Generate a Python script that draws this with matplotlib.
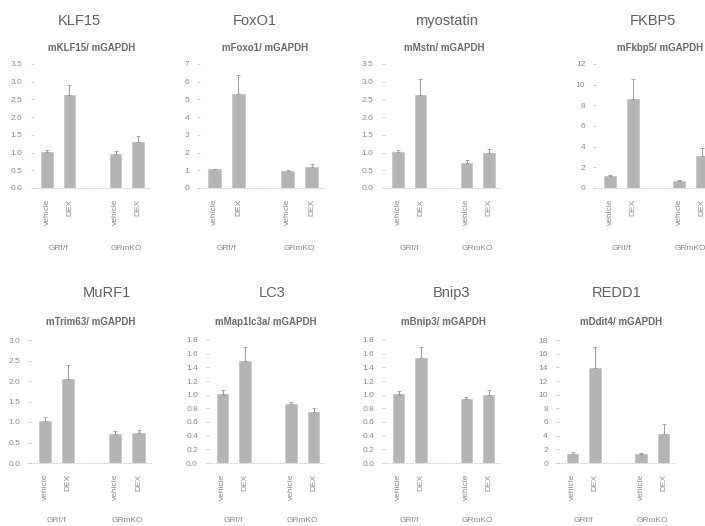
import numpy as np
import matplotlib
matplotlib.use('Agg')
import matplotlib.pyplot as plt

plt.rcParams['font.family'] = ['Liberation Sans', 'DejaVu Sans']

# ---- data ----
genes = ['KLF15', 'FoxO1', 'myostatin', 'FKBP5', 'MuRF1', 'LC3', 'Bnip3', 'REDD1']
ratios = ['mKLF15/ mGAPDH', 'mFoxo1/ mGAPDH', 'mMstn/ mGAPDH', 'mFkbp5/ mGAPDH',
          'mTrim63/ mGAPDH', 'mMap1lc3a/ mGAPDH', 'mBnip3/ mGAPDH', 'mDdit4/ mGAPDH']
conditions = ['vehicle', 'DEX', 'vehicle', 'DEX']
groups = ['GRf/f', 'GRmKO']

klf15 = [1.02, 2.63, 0.96, 1.30]
klf15_err = [0.05, 0.27, 0.09, 0.17]
foxo1 = [1.05, 5.33, 0.95, 1.20]
foxo1_err = [0.05, 1.05, 0.07, 0.15]
myostatin = [1.02, 2.62, 0.71, 0.99]
myostatin_err = [0.05, 0.45, 0.07, 0.10]
fkbp5 = [1.13, 8.6, 0.70, 3.1]
fkbp5_err = [0.17, 1.9, 0.10, 0.8]
murf1 = [1.03, 2.05, 0.70, 0.74]
murf1_err = [0.08, 0.33, 0.08, 0.07]
lc3 = [1.01, 1.50, 0.86, 0.75]
lc3_err = [0.06, 0.20, 0.04, 0.06]
bnip3 = [1.01, 1.53, 0.93, 1.00]
bnip3_err = [0.05, 0.17, 0.03, 0.07]
redd1 = [1.3, 13.9, 1.3, 4.3]
redd1_err = [0.25, 3.1, 0.20, 1.4]

values = [klf15, foxo1, myostatin, fkbp5, murf1, lc3, bnip3, redd1]
errors = [klf15_err, foxo1_err, myostatin_err, fkbp5_err,
          murf1_err, lc3_err, bnip3_err, redd1_err]
ytop = [3.5, 7, 3.5, 12, 3.0, 1.8, 1.8, 18]
ystep = [0.5, 1, 0.5, 2, 0.5, 0.2, 0.2, 2]
yfmt = ['{:.1f}', '{:d}', '{:.1f}', '{:d}', '{:.1f}', '{:.1f}', '{:.1f}', '{:d}']

xpos = np.array([0, 1, 3.05, 4.05])

# ---- layout in pixels (first bar centre, last bar centre, title x, subtitle x) ----
W, H = 705, 526
layout = [
    (47, 138, 79, 92), (214.5, 311.5, 255, 265), (398, 489, 447, 444), (610, 702, 653, 660),
    (45, 138.5, 107, 91), (222.5, 313.5, 272, 266), (398.5, 488.5, 452, 443), (572.5, 663.5, 617, 621),
]
rows = [dict(top=64, base=188, title=21, sub=48, grp=248),
        dict(top=340, base=463, title=293, sub=322, grp=520)]

bar_c = '#b4b4b4'
txt_c = '#8a8a8a'
title_c = '#606060'

fig = plt.figure(figsize=(W / 100, H / 100), dpi=100)
fig.patch.set_facecolor('white')

for i, gene in enumerate(genes):
    c0, c3, tx, sx = layout[i]
    r = rows[i // 4]
    u = (c3 - c0) / xpos[-1]
    x0, x1 = -0.6, 4.6
    left = c0 + x0 * u
    width = (x1 - x0) * u
    ax = fig.add_axes([left / W, 1 - r['base'] / H, width / W, (r['base'] - r['top']) / H])
    ax.patch.set_alpha(0)

    v = np.array(values[i])
    e = np.array(errors[i])
    ax.bar(xpos, v, width=0.52, color=bar_c, edgecolor='#c8c8c8', linewidth=0.6)
    ax.errorbar(xpos, v, yerr=[np.zeros_like(e), e], fmt='none', ecolor='#9a9a9a',
                elinewidth=0.7, capsize=1.2, capthick=0.6, clip_on=False)

    ax.set_xlim(x0, x1)
    ax.set_ylim(0, ytop[i])
    ticks = np.arange(0, ytop[i] + ystep[i] / 2, ystep[i])
    ax.set_yticks(ticks)
    if yfmt[i] == '{:d}':
        ax.set_yticklabels([str(int(round(t))) for t in ticks])
    else:
        ax.set_yticklabels([yfmt[i].format(t) for t in ticks])
    ax.set_xticks(xpos)
    ax.set_xticklabels(conditions, rotation=90, va='top')

    for s in ['top', 'right', 'left']:
        ax.spines[s].set_visible(False)
    ax.spines['bottom'].set_color('#d0d0d0')
    ax.spines['bottom'].set_linestyle(':')
    ax.spines['bottom'].set_linewidth(0.6)
    ax.tick_params(axis='y', length=2, width=0.6, color='#c8c8c8', pad=6,
                   labelsize=6, labelcolor=txt_c)
    ax.tick_params(axis='x', length=0, pad=8, labelsize=6, labelcolor=txt_c)

    fig.text(tx / W, 1 - r['title'] / H, gene, ha='center', va='center',
             fontsize=10.5, color=title_c)
    fig.text(sx / W, 1 - r['sub'] / H, ratios[i], ha='center', va='center',
             fontsize=7, fontweight='bold', color='#6a6a6a')
    for g, gname in enumerate(groups):
        gx = c0 + (xpos[2 * g] + xpos[2 * g + 1]) / 2 * u
        fig.text(gx / W, 1 - r['grp'] / H, gname, ha='center', va='center',
                 fontsize=6, color=txt_c)

fig.savefig('out.png', dpi=100)
